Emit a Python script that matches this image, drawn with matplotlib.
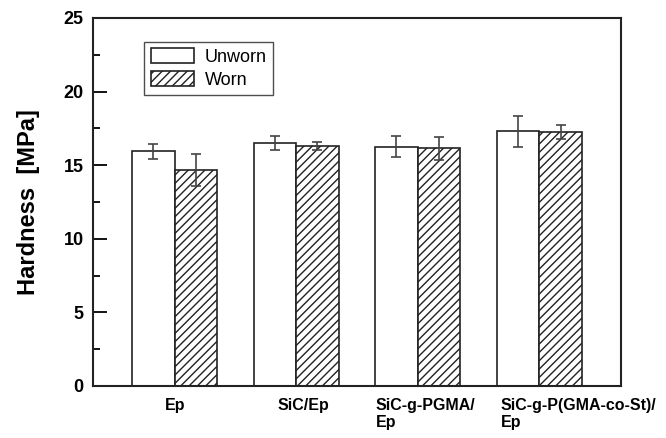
import numpy as np
import matplotlib
matplotlib.use('Agg')
import matplotlib.pyplot as plt
import matplotlib.transforms as mtransforms

plt.rcParams['font.family'] = ['Liberation Sans', 'DejaVu Sans']
plt.rcParams['hatch.linewidth'] = 1.0

# data
samples = ['Ep', 'SiC/Ep', 'SiC-g-PGMA/\nEp', 'SiC-g-P(GMA-co-St)/\nEp']
unworn = [15.95, 16.5, 16.25, 17.3]
unworn_err = [0.5, 0.5, 0.72, 1.07]
worn = [14.65, 16.3, 16.15, 17.25]
worn_err = [1.1, 0.28, 0.77, 0.45]
label_shift_px = [0, 7, 8, 39]   # labels in the original are not centred on the groups

fig = plt.figure(figsize=(6.66, 4.38), dpi=100)
ax = fig.add_axes([0.14, 0.119, 0.792, 0.840])

x = np.arange(1, len(samples) + 1)
w = 0.35
ekw = dict(ecolor='#444444', elinewidth=1.2, capsize=3.5, capthick=1.2)

ax.bar(x - w / 2, unworn, w, yerr=unworn_err, color='white', edgecolor='#222222',
       linewidth=1.2, label='Unworn', error_kw=ekw)
ax.bar(x + w / 2, worn, w, yerr=worn_err, color='white', edgecolor='#222222',
       linewidth=1.2, hatch='////', label='Worn', error_kw=ekw)

ax.set_xlim(0.33, 4.67)
ax.set_ylim(0, 25)
ax.set_yticks([0, 5, 10, 15, 20, 25])
ax.set_yticks(np.arange(2.5, 25, 5), minor=True)
ax.set_xticks(x)
ax.set_xticklabels([])

# group labels as text so they can be nudged like in the original
base = mtransforms.blended_transform_factory(ax.transData, ax.transAxes)
for xi, name, dx in zip(x, samples, label_shift_px):
    off = mtransforms.ScaledTranslation(dx / 100, -12 / 100, fig.dpi_scale_trans)
    ax.text(xi, 0, name, transform=base + off, ha='center', va='top',
            multialignment='left', fontsize=11.5, fontweight='bold', linespacing=1.2)

for t in ax.get_yticklabels():
    t.set_fontweight('bold')
    t.set_fontsize(13)

ax.tick_params(axis='y', which='major', direction='in', length=10, width=1.3, pad=7)
ax.tick_params(axis='y', which='minor', direction='in', length=5, width=1.3)
ax.tick_params(axis='x', which='major', length=0)
ax.tick_params(right=False, top=False)

for sp in ax.spines.values():
    sp.set_linewidth(1.5)
    sp.set_color('#222222')

ax.set_ylabel('Hardness  [MPa]', fontsize=17, fontweight='bold', labelpad=17)

leg = ax.legend(loc='upper left', bbox_to_anchor=(0.097, 0.935), fontsize=13,
                frameon=True, fancybox=False, edgecolor='#222222',
                handlelength=2.4, handleheight=0.9, labelspacing=0.3,
                borderaxespad=0, borderpad=0.35, handletextpad=0.6)
leg.get_frame().set_linewidth(1.0)

fig.savefig('out.png', dpi=100)
